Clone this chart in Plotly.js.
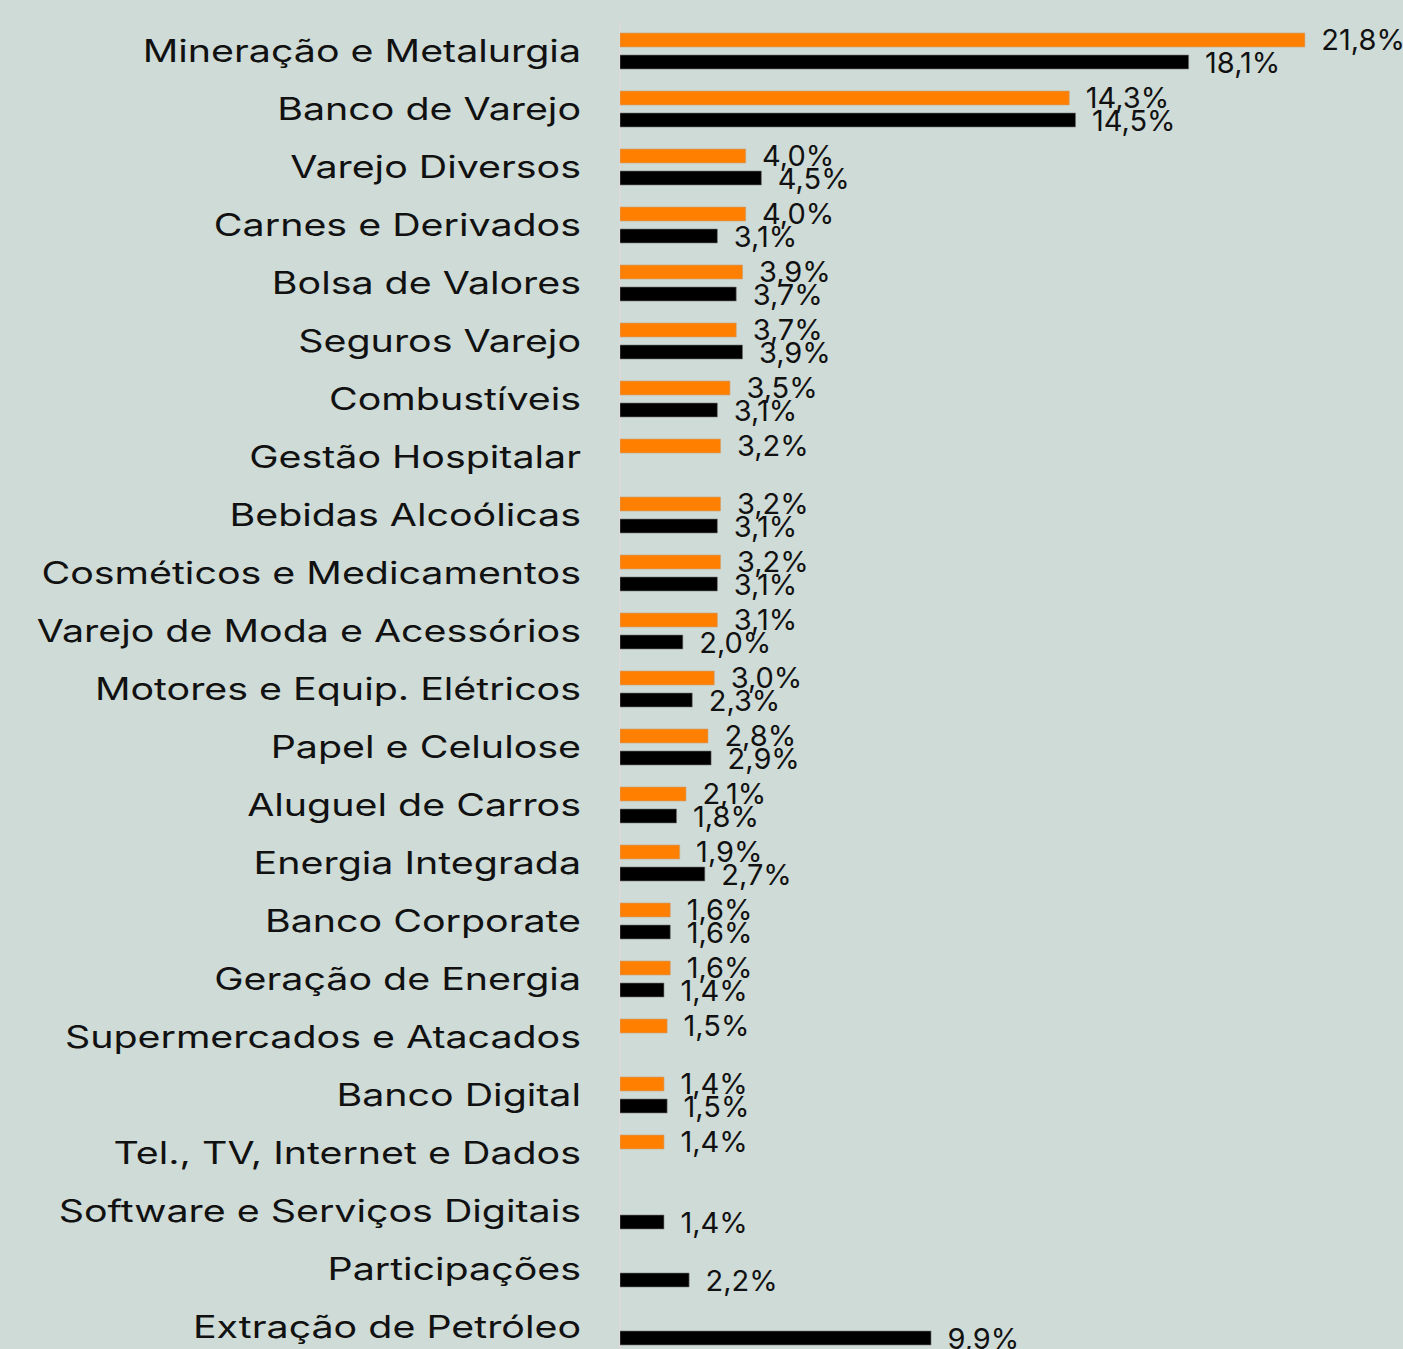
<!DOCTYPE html>
<html>
<head>
<meta charset="utf-8">
<script src="https://cdn.plot.ly/plotly-3.0.1.min.js"></script>
<style>
  html, body { margin: 0; padding: 0; background: #cfdbd6; }
  #chart { width: 1403px; height: 1349px; }
</style>
</head>
<body>
<div id="chart"></div>
<script>
const categories = [
  "Mineração e Metalurgia",
  "Banco de Varejo",
  "Varejo Diversos",
  "Carnes e Derivados",
  "Bolsa de Valores",
  "Seguros Varejo",
  "Combustíveis",
  "Gestão Hospitalar",
  "Bebidas Alcoólicas",
  "Cosméticos e Medicamentos",
  "Varejo de Moda e Acessórios",
  "Motores e Equip. Elétricos",
  "Papel e Celulose",
  "Aluguel de Carros",
  "Energia Integrada",
  "Banco Corporate",
  "Geração de Energia",
  "Supermercados e Atacados",
  "Banco Digital",
  "Tel., TV, Internet e Dados",
  "Software e Serviços Digitais",
  "Participações",
  "Extração de Petróleo"
];
const orangeValues = [21.8, 14.3, 4.0, 4.0, 3.9, 3.7, 3.5, 3.2, 3.2, 3.2, 3.1, 3.0, 2.8, 2.1, 1.9, 1.6, 1.6, 1.5, 1.4, 1.4, null, null, null];
const blackValues  = [18.1, 14.5, 4.5, 3.1, 3.7, 3.9, 3.1, null, 3.1, 3.1, 2.0, 2.3, 2.9, 1.8, 2.7, 1.6, 1.4, null, 1.5, null, 1.4, 2.2, 9.9];

const fmt = v => (v === null ? "" : "\u00a0\u2009" + v.toFixed(1).replace(".", ",") + "%");

const FONT = "Inter, 'Noto Sans', sans-serif";

const common = {
  type: "bar",
  orientation: "h",
  y: categories,
  textposition: "outside",
  cliponaxis: false,
  constraintext: "none",
  textfont: { family: FONT, size: 29, color: "#111111" },
  hoverinfo: "skip"
};

const traces = [
  Object.assign({}, common, {
    name: "orange",
    x: orangeValues,
    text: orangeValues.map(fmt),
    marker: { color: "#ff7f00", line: { color: "rgba(200,160,120,0.6)", width: 1 } }
  }),
  Object.assign({}, common, {
    name: "black",
    x: blackValues,
    text: blackValues.map(fmt),
    marker: { color: "#000000", line: { color: "rgba(120,120,120,0.6)", width: 1 } }
  })
];

const n = categories.length;
const layout = {
  width: 1403,
  height: 1349,
  paper_bgcolor: "#cfdbd6",
  plot_bgcolor: "#cfdbd6",
  barmode: "group",
  bargap: 0.241,
  bargroupgap: 0.364,
  showlegend: false,
  margin: { l: 620, r: 29, t: 22, b: 0, pad: 0 },
  xaxis: {
    range: [0, 24],
    showgrid: false,
    zeroline: true,
    zerolinecolor: "#dcd9d9",
    zerolinewidth: 2,
    showticklabels: false,
    ticks: "",
    fixedrange: true
  },
  yaxis: {
    type: "category",
    range: [n - 0.5 + (1327 / 58 - n), -0.5],
    showgrid: false,
    zeroline: false,
    showline: false,
    ticks: "",
    ticklabelstandoff: 38,
    tickfont: { family: FONT, size: 31, color: "#111111" },
    fixedrange: true
  },
  font: { family: FONT, color: "#111111" }
};

Plotly.newPlot("chart", traces, layout, { staticPlot: true, displayModeBar: false }).then(() => {
  // widen the category labels horizontally (the reference uses a wide typeface), anchored at their right edge
  document.querySelectorAll("#chart .ytick text").forEach(t => {
    const bb = t.getBBox();
    const rx = bb.x + bb.width;
    const tr = t.getAttribute("transform") || "";
    t.setAttribute("transform", tr + " translate(" + rx + ",0) scale(1.27,1) translate(" + (-rx) + ",0)");
  });
});
</script>
</body>
</html>
